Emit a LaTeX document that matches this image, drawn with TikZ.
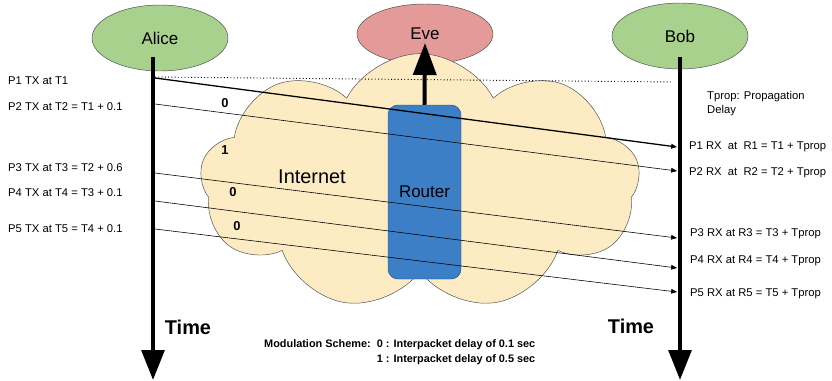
\documentclass[tikz,border=0pt]{standalone}
\usepackage{fontspec}
\setmainfont{Liberation Sans}
\usetikzlibrary{arrows.meta,shapes.geometric,shapes.symbols}
\definecolor{partyGreen}{HTML}{A9D18E}
\definecolor{eveRed}{HTML}{E59A9A}
\definecolor{cloudYellow}{HTML}{FCEBC3}
\definecolor{routerBlue}{HTML}{3D7FC6}
\tikzset{
    party/.style={ellipse, draw=black!70, thin, inner sep=0pt, minimum width=4.08cm, minimum height=1.98cm, font=\fontsize{14.5}{17}\selectfont}, % Alice, Bob and Eve
    timeline/.style={line width=3.4pt, -{Triangle[width=0.68cm, length=0.9cm]}}, % the two time axes
    packet/.style={line width=0.5pt, -{Triangle[width=4pt, length=5pt]}}, % one packet from TX to RX
    txlabel/.style={anchor=west, inner sep=0pt, font=\fontsize{9.6}{11.5}\selectfont}, % the small side texts
    bit/.style={inner sep=0pt, font=\bfseries\fontsize{11}{13}\selectfont} % the modulated bits
}

\begin{document}
\begin{tikzpicture}[x=0.03cm, y=-0.03cm]
    \useasboundingbox (0,0) rectangle (832,380);

    \node[party, fill=partyGreen] (alice) at (160,38) {Alice};
    \node[party, fill=partyGreen] (bob) at (680,36) {Bob};
    \node[party, fill=eveRed, minimum height=1.8cm] (eve) at (425,34) {Eve};

    \node[cloud, cloud puffs=9, cloud puff arc=125, aspect=1.75, draw=black!70, thin, fill=cloudYellow,
          minimum width=13.2cm, minimum height=7.7cm] (internet) at (420,182) {};
    \node[font=\fontsize{17}{20}\selectfont] (internetlabel) at (312,177) {Internet};
    \node[rectangle, rounded corners=0.3cm, fill=routerBlue, draw=routerBlue!60!black, thin,
          minimum width=2.19cm, minimum height=5.22cm, font=\fontsize{14.5}{17}\selectfont] (router) at (424.5,192) {Router};

    % time axes
    \coordinate (alicetop) at (153,57); \coordinate (aliceend) at (153,380);
    \coordinate (bobtop) at (680,57);   \coordinate (bobend) at (680,380);
    \draw[timeline] (alicetop) -- (aliceend);
    \draw[timeline] (bobtop) -- (bobend);
    \node[font=\bfseries\fontsize{17}{20}\selectfont] (alicetime) at (188,327) {Time};
    \node[font=\bfseries\fontsize{17}{20}\selectfont] (bobtime) at (631,326) {Time};

    % the tap to Eve
    \coordinate (tap) at (425,43);
    \draw[line width=3.4pt, -{Triangle[width=0.69cm, length=0.96cm]}] (router.north) -- (tap);

    % packets
    \coordinate (tx0) at (155,77);  \coordinate (rx0) at (672,82);
    \coordinate (tx1) at (155,78);  \coordinate (rx1) at (677,147);
    \coordinate (tx2) at (155,104); \coordinate (rx2) at (677,171);
    \coordinate (tx3) at (155,173); \coordinate (rx3) at (677,238);
    \coordinate (tx4) at (155,201); \coordinate (rx4) at (677,268);
    \coordinate (tx5) at (155,229); \coordinate (rx5) at (677,292);
    \draw[dotted, thick] (tx0) -- (rx0);
    \draw[packet, line width=1.1pt] (tx1) -- (rx1);
    \foreach \i in {2,...,5} {\draw[packet] (tx\i) -- (rx\i);}

    \node[txlabel] (tx1label) at (8,81)  {P1 TX at T1};
    \node[txlabel] (tx2label) at (8,107) {P2 TX at T2 = T1 + 0.1};
    \node[txlabel] (tx3label) at (8,168) {P3 TX at T3 = T2 + 0.6};
    \node[txlabel] (tx4label) at (8,193) {P4 TX at T4 = T3 + 0.1};
    \node[txlabel] (tx5label) at (8,229) {P5 TX at T5 = T4 + 0.1};

    \node[txlabel] (tpropnote) at (707,104) {\begin{tabular}{@{}l@{}}Tprop: Propagation\\Delay\end{tabular}};
    \node[txlabel] (rx1label) at (689,147) {P1 RX\ \ at\ \ R1 = T1 + Tprop};
    \node[txlabel] (rx2label) at (689,173) {P2 RX\ \ at\ \ R2 = T2 + Tprop};
    \node[txlabel] (rx3label) at (690,234) {P3 RX at R3 = T3 + Tprop};
    \node[txlabel] (rx4label) at (690,261) {P4 RX at R4 = T4 + Tprop};
    \node[txlabel] (rx5label) at (690,294) {P5 RX at R5 = T5 + Tprop};

    \node[bit] (bit1) at (225,103) {0};
    \node[bit] (bit2) at (225,150) {1};
    \node[bit] (bit3) at (233,192) {0};
    \node[bit] (bit4) at (237,226) {0};

    \node[anchor=west, inner sep=0pt, font=\bfseries\fontsize{9.3}{12.5}\selectfont] (scheme) at (264,352) {
        \begin{tabular}{@{}l@{\ \ }l@{}}Modulation Scheme: & 0 : Interpacket delay of 0.1 sec\\ & 1 : Interpacket delay of 0.5 sec\end{tabular}};
\end{tikzpicture}
\end{document}
